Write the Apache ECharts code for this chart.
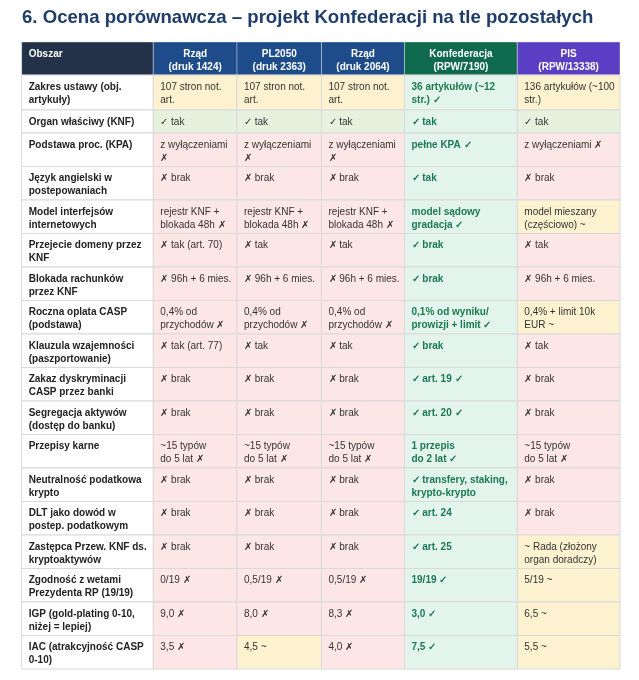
<!DOCTYPE html>
<html>
<head>
<meta charset="utf-8">
<script src="https://cdn.jsdelivr.net/npm/echarts@6/dist/echarts.min.js"></script>
<style>
html,body{margin:0;padding:0;background:#fff;}
#chart{width:639px;height:680px;}
</style>
</head>
<body>
<div id="chart"></div>
<script>
// ---------- DATA ----------
const titleText = '6. Ocena porównawcza – projekt Konfederacji na tle pozostałych';
const headers = ['Obszar', 'Rząd\n(druk 1424)', 'PL2050\n(druk 2363)', 'Rząd\n(druk 2064)', 'Konfederacja\n(RPW/7190)', 'PIS\n(RPW/13338)'];
const areas = [
  'Zakres ustawy (obj.\nartykuły)',
  'Organ właściwy (KNF)',
  'Podstawa proc. (KPA)',
  'Język angielski w\npostepowaniach',
  'Model interfejsów\ninternetowych',
  'Przejecie domeny przez\nKNF',
  'Blokada rachunków\nprzez KNF',
  'Roczna oplata CASP\n(podstawa)',
  'Klauzula wzajemności\n(paszportowanie)',
  'Zakaz dyskryminacji\nCASP przez banki',
  'Segregacja aktywów\n(dostęp do banku)',
  'Przepisy karne',
  'Neutralność podatkowa\nkrypto',
  'DLT jako dowód w\npostep. podatkowym',
  'Zastępca Przew. KNF ds.\nkryptoaktywów',
  'Zgodność z wetami\nPrezydenta RP (19/19)',
  'IGP (gold-plating 0-10,\nniżej = lepiej)',
  'IAC (atrakcyjność CASP\n0-10)'
];
const rzad1424 = [
  '107 stron not.\nart.', '✓ tak', 'z wyłączeniami\n✗', '✗ brak', 'rejestr KNF +\nblokada 48h ✗',
  '✗ tak (art. 70)', '✗ 96h + 6 mies.', '0,4% od\nprzychodów ✗', '✗ tak (art. 77)', '✗ brak',
  '✗ brak', '~15 typów\ndo 5 lat ✗', '✗ brak', '✗ brak', '✗ brak', '0/19 ✗', '9,0 ✗', '3,5 ✗'
];
const pl2050 = [
  '107 stron not.\nart.', '✓ tak', 'z wyłączeniami\n✗', '✗ brak', 'rejestr KNF +\nblokada 48h ✗',
  '✗ tak', '✗ 96h + 6 mies.', '0,4% od\nprzychodów ✗', '✗ tak', '✗ brak',
  '✗ brak', '~15 typów\ndo 5 lat ✗', '✗ brak', '✗ brak', '✗ brak', '0,5/19 ✗', '8,0 ✗', '4,5 ~'
];
const rzad2064 = [
  '107 stron not.\nart.', '✓ tak', 'z wyłączeniami\n✗', '✗ brak', 'rejestr KNF +\nblokada 48h ✗',
  '✗ tak', '✗ 96h + 6 mies.', '0,4% od\nprzychodów ✗', '✗ tak', '✗ brak',
  '✗ brak', '~15 typów\ndo 5 lat ✗', '✗ brak', '✗ brak', '✗ brak', '0,5/19 ✗', '8,3 ✗', '4,0 ✗'
];
const konfederacja = [
  '36 artykułów (~12\nstr.) ✓', '✓ tak', 'pełne KPA ✓', '✓ tak', 'model sądowy\ngradacja ✓',
  '✓ brak', '✓ brak', '0,1% od wyniku/\nprowizji + limit ✓', '✓ brak', '✓ art. 19 ✓',
  '✓ art. 20 ✓', '1 przepis\ndo 2 lat ✓', '✓ transfery, staking,\nkrypto-krypto', '✓ art. 24', '✓ art. 25',
  '19/19 ✓', '3,0 ✓', '7,5 ✓'
];
const pis = [
  '136 artykułów (~100\nstr.)', '✓ tak', 'z wyłączeniami ✗', '✗ brak', 'model mieszany\n(częściowo) ~',
  '✗ tak', '✗ 96h + 6 mies.', '0,4% + limit 10k\nEUR ~', '✗ tak', '✗ brak',
  '✗ brak', '~15 typów\ndo 5 lat ✗', '✗ brak', '✗ brak', '~ Rada (złożony\norgan doradczy)',
  '5/19 ~', '6,5 ~', '5,5 ~'
];
// rating per cell: n = neutral/partial, ok = positive, bad = negative, best = Konfederacja
const rateRzad1424 = ['n','ok','bad','bad','bad','bad','bad','bad','bad','bad','bad','bad','bad','bad','bad','bad','bad','bad'];
const ratePl2050   = ['n','ok','bad','bad','bad','bad','bad','bad','bad','bad','bad','bad','bad','bad','bad','bad','bad','n'];
const rateRzad2064 = ['n','ok','bad','bad','bad','bad','bad','bad','bad','bad','bad','bad','bad','bad','bad','bad','bad','bad'];
const rateKonf     = ['best','best','best','best','best','best','best','best','best','best','best','best','best','best','best','best','best','best'];
const ratePis      = ['n','ok','bad','bad','n','bad','bad','n','bad','bad','bad','bad','bad','bad','n','n','n','n'];

// ---------- LAYOUT ----------
const colW = [131.6, 83.7, 84.5, 83, 112.8, 102.7];
const headerH = 33;
const rowH = [35, 23].concat(new Array(16).fill(33.5));
const gridLeft = 21.7, gridTop = 42;

const valueCols = [rzad1424, pl2050, rzad2064, konfederacja, pis];
const rateCols = [rateRzad1424, ratePl2050, rateRzad2064, rateKonf, ratePis];

const colEdges = [0];
colW.forEach(w => colEdges.push(colEdges[colEdges.length - 1] + w));
const allRowH = [headerH].concat(rowH);
const rowEdges = [0];
allRowH.forEach(h => rowEdges.push(rowEdges[rowEdges.length - 1] + h));
const totalW = colEdges[colEdges.length - 1];
const totalH = rowEdges[rowEdges.length - 1];

const headerFill = ['#243249', '#1e4c8a', '#1e4c8a', '#1e4c8a', '#106b4e', '#5a3fc4'];
const rateFill = { n: '#fdf2cf', ok: '#e7f2de', bad: '#fde7e6', best: '#e3f4ec' };
const FONT = '"Liberation Sans", Arial, sans-serif';

// build cells: [col, row, text, kind, rating]
const cells = [];
headers.forEach((h, c) => cells.push([c, 0, h, 'header', '']));
areas.forEach((a, r) => {
  cells.push([0, r + 1, a, 'area', '']);
  valueCols.forEach((col, c) => {
    cells.push([c + 1, r + 1, col[r], c === 3 ? 'konf' : 'value', rateCols[c][r]]);
  });
});

const chart = echarts.init(document.getElementById('chart'), null, { renderer: 'canvas' });
chart.setOption({
  animation: false,
  backgroundColor: '#ffffff',
  title: {
    text: titleText,
    left: 22,
    top: 8,
    padding: 0,
    textStyle: { fontFamily: FONT, fontSize: 18.6, fontWeight: 'bold', color: '#1f3d6b' }
  },
  grid: { left: gridLeft, top: gridTop, width: totalW, height: totalH },
  xAxis: { type: 'value', min: 0, max: totalW, show: false },
  yAxis: { type: 'value', min: 0, max: totalH, inverse: true, show: false },
  series: [{
    type: 'custom',
    coordinateSystem: 'cartesian2d',
    data: cells.map(c => [c[0], c[1]]),
    encode: { x: 0, y: 1 },
    renderItem: function (params, api) {
      const cell = cells[params.dataIndex];
      const c = cell[0], r = cell[1], kind = cell[3];
      const p0 = api.coord([colEdges[c], rowEdges[r]]);
      const p1 = api.coord([colEdges[c + 1], rowEdges[r + 1]]);
      const x = p0[0], y = p0[1], w = p1[0] - p0[0], h = p1[1] - p0[1];
      let fill, stroke, color, weight, align, tx;
      if (kind === 'header') {
        fill = headerFill[c];
        stroke = 'rgba(255,255,255,0.35)';
        color = '#ffffff';
        weight = 'bold';
        align = c === 0 ? 'left' : 'center';
        tx = c === 0 ? x + 7 : x + w / 2;
      } else if (kind === 'area') {
        fill = '#ffffff'; stroke = '#d9d9d9'; color = '#222222'; weight = 'bold'; align = 'left'; tx = x + 7;
      } else if (kind === 'konf') {
        fill = rateFill[cell[4]]; stroke = '#d9d9d9'; color = '#1b7a52'; weight = 'bold'; align = 'left'; tx = x + 7;
      } else {
        fill = rateFill[cell[4]]; stroke = '#d9d9d9'; color = '#333333'; weight = 'normal'; align = 'left'; tx = x + 7;
      }
      return {
        type: 'group',
        children: [
          { type: 'rect', shape: { x: x, y: y, width: w, height: h }, style: { fill: fill, stroke: stroke, lineWidth: 1 } },
          { type: 'text', style: {
              text: cell[2], x: tx, y: y + 5.5, fill: color,
              fontSize: 10, fontWeight: weight, fontFamily: FONT, lineHeight: 13,
              align: align, verticalAlign: 'top'
          } }
        ]
      };
    }
  }]
});
</script>
</body>
</html>
